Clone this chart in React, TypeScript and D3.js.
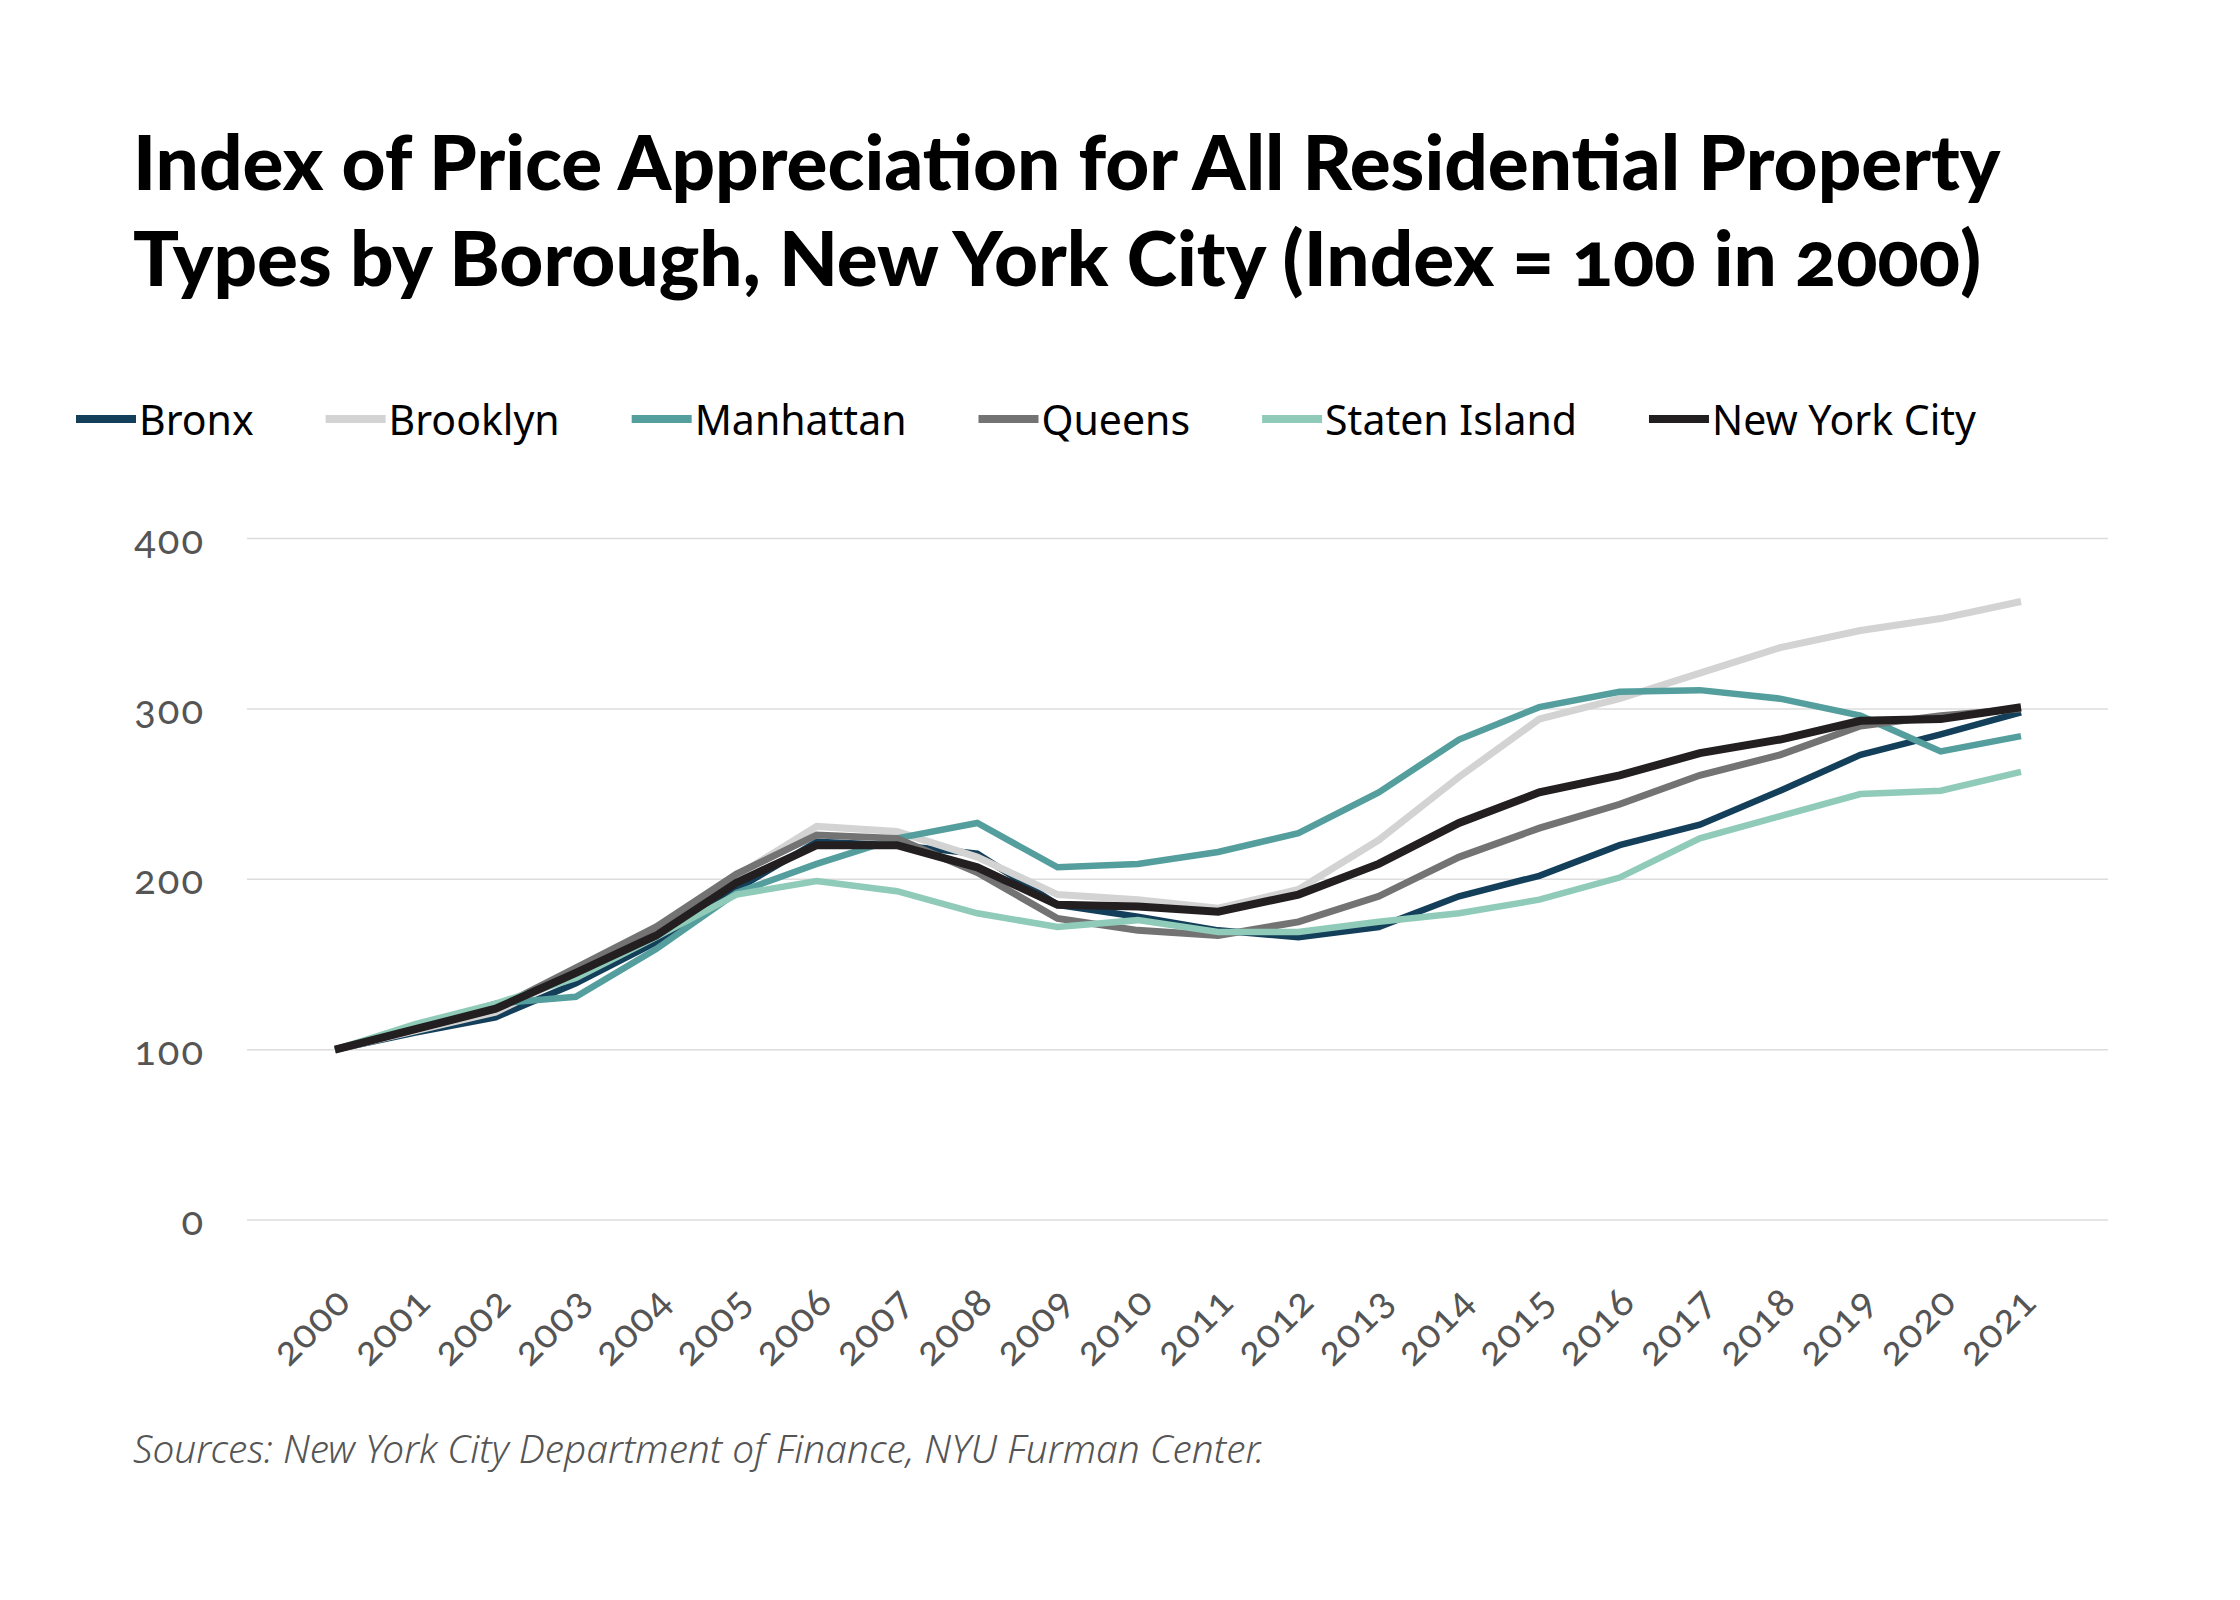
import { useEffect, useMemo } from "react";
import * as d3 from "d3";

const WIDTH = 2240;
const HEIGHT = 1600;

const years = d3.range(2000, 2022);

const bronx = [100, 110, 119, 139, 163, 194, 222, 220, 215, 185, 178, 170, 166, 172, 190, 202, 220, 232, 252, 273, 285, 298];
const brooklyn = [100, 111, 122, 145, 169, 202, 231, 228, 213, 191, 188, 183, 194, 223, 260, 294, 306, 321, 336, 346, 353, 363];
const manhattan = [100, 113, 127, 131, 159, 192, 209, 224, 233, 207, 209, 216, 227, 251, 282, 301, 310, 311, 306, 296, 275, 284];
const queens = [100, 112, 124, 148, 172, 203, 226, 224, 204, 177, 170, 167, 175, 190, 213, 230, 244, 261, 273, 290, 296, 300];
const statenIsland = [100, 115, 127, 142, 166, 191, 199, 193, 180, 172, 176, 169, 169, 175, 180, 188, 201, 224, 237, 250, 252, 263];
const newYorkCity = [100, 112, 124, 145, 167, 198, 220, 220, 207, 185, 184, 181, 191, 209, 233, 251, 261, 274, 282, 293, 294, 301];

const yTicks = [0, 100, 200, 300, 400];

type Series = { name: string; values: number[]; color: string; width: number };

const series: Series[] = [
  { name: "Bronx", values: bronx, color: "#143f5a", width: 6.5 },
  { name: "Brooklyn", values: brooklyn, color: "#d3d3d3", width: 7 },
  { name: "Manhattan", values: manhattan, color: "#559e9e", width: 6.5 },
  { name: "Queens", values: queens, color: "#737373", width: 7 },
  { name: "Staten Island", values: statenIsland, color: "#8fcbb8", width: 6.5 },
  { name: "New York City", values: newYorkCity, color: "#231f20", width: 8 },
];

const TITLE_LINES = [
  "Index of Price Appreciation for All Residential Property",
  "Types by Borough, New York City (Index = 100 in 2000)",
];
const SOURCE = "Sources: New York City Department of Finance, NYU Furman Center.";

const LEGEND_FONT = "41px 'Noto Sans'";
const SWATCH_W = 60;
const LEGEND_GAP = 72;

const measure = (txt: string, font: string) => {
  const ctx = document.createElement("canvas").getContext("2d");
  if (!ctx) return txt.length * 20;
  ctx.font = font;
  return ctx.measureText(txt).width;
};

export default function App() {
  useEffect(() => {
    document.body.style.margin = "0";
  }, []);

  const x = d3.scaleLinear().domain([2000, 2021]).range([335, 2021]);
  const y = d3.scaleLinear().domain([0, 400]).range([1220, 538.5]);

  const line = d3
    .line<number>()
    .x((_, i) => x(years[i]))
    .y((d) => y(d));

  const legend = useMemo(() => {
    let pos = 76;
    return series.map((s) => {
      const item = { ...s, x: pos };
      pos += SWATCH_W + 3 + measure(s.name, LEGEND_FONT) + LEGEND_GAP;
      return item;
    });
  }, []);

  return (
    <svg width={WIDTH} height={HEIGHT} style={{ display: "block", background: "#fff" }}>
      {TITLE_LINES.map((t, i) => (
        <text
          key={i}
          x={133}
          y={190 + i * 96}
          fontFamily="Lato"
          fontWeight={900}
          fontSize={76.4}
          fill="#000"
          style={{ fontVariantNumeric: "oldstyle-nums" }}
        >
          {t}
        </text>
      ))}

      {legend.map((s) => (
        <g key={s.name} transform={`translate(${s.x}, 419)`}>
          <line x1={0} x2={SWATCH_W} y1={0} y2={0} stroke={s.color} strokeWidth={8} />
          <text x={SWATCH_W + 3} y={0} dominantBaseline="central" fontFamily="'Noto Sans'" fontSize={41} fill="#000">
            {s.name}
          </text>
        </g>
      ))}

      {yTicks.map((t) => (
        <g key={t}>
          <line x1={247} x2={2108} y1={y(t)} y2={y(t)} stroke="#dcdcdc" strokeWidth={1.5} />
          <text
            x={205}
            y={y(t)}
            textAnchor="end"
            dominantBaseline="central"
            fontFamily="Lato"
            fontSize={40}
            fill="#555"
            style={{ fontVariantNumeric: "oldstyle-nums", letterSpacing: "2px" }}
          >
            {t}
          </text>
        </g>
      ))}

      {years.map((yr) => (
        <text
          key={yr}
          transform={`translate(${x(yr) + 18}, 1304) rotate(-45)`}
          textAnchor="end"
          fontFamily="Lato"
          fontSize={40}
          fill="#555"
          style={{ fontVariantNumeric: "oldstyle-nums", letterSpacing: "1px" }}
        >
          {yr}
        </text>
      ))}

      {series.map((s) => (
        <path
          key={s.name}
          d={line(s.values) ?? ""}
          fill="none"
          stroke={s.color}
          strokeWidth={s.width}
          strokeLinejoin="miter"
        />
      ))}

      <text x={133} y={1463} fontFamily="'Noto Sans'" fontStyle="italic" fontWeight={300} fontSize={38.8} fill="#555">
        {SOURCE}
      </text>
    </svg>
  );
}
